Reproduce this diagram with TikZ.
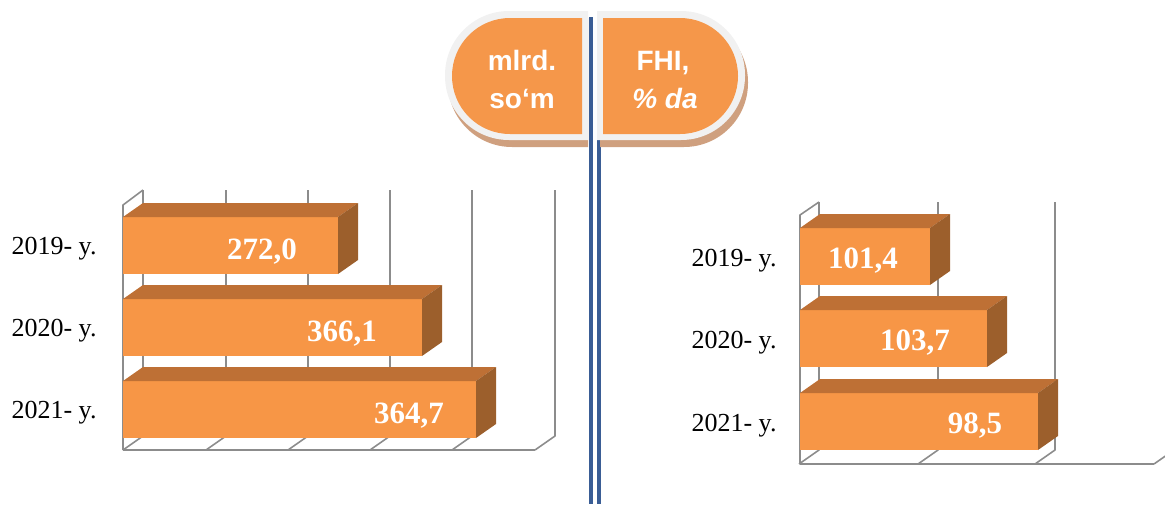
\documentclass[tikz,border=0pt]{standalone}
\usepackage{fontspec}
\setmainfont{Liberation Serif}
\newfontfamily\pillfont{Liberation Sans}
\definecolor{barfront}{HTML}{F79646}
\definecolor{bartop}{HTML}{BE7035}
\definecolor{barside}{HTML}{9C5F2C}
\definecolor{pillorange}{HTML}{F5974A}
\definecolor{pillrim}{HTML}{F1F1F1}
\definecolor{pillshadow}{HTML}{CFA07F}
\definecolor{gridgray}{HTML}{8C8C8C}
\definecolor{sepblue}{HTML}{3A5D95}
\tikzset{
  gridline/.style={draw=gridgray,line width=1.6pt,line join=round},
  yearlabel/.style={font=\fontsize{26}{28}\selectfont,anchor=base,inner sep=0pt},
  vallabel/.style={font=\bfseries\fontsize{31}{33}\selectfont,text=white,anchor=base,inner sep=0pt},
  pilltext/.style={font=\pillfont\bfseries\fontsize{28}{30}\selectfont,text=white,anchor=base,inner sep=0pt},
}
\newcommand\threedbar[4]{% left x, top y, right x, name
  \fill[barfront] (#1,#2) rectangle (#3,#2+57);
  \fill[bartop] (#1,#2) -- (#1+20,#2-14) -- (#3+20,#2-14) -- (#3,#2) -- cycle;
  \fill[barside] (#3,#2) -- (#3+20,#2-14) -- (#3+20,#2+43) -- (#3,#2+57) -- cycle;
  \coordinate (#4) at (#1,#2);
}
\begin{document}
\begin{tikzpicture}[x=1pt,y=-1pt]
\useasboundingbox (0,0) rectangle (1165,504);
% right separator line (behind the right pill)
\fill[sepblue] (597,17) rectangle (601,504);
% left pill
\fill[pillshadow] (588,18) [rounded corners=64] -- (448,18) -- (448,147) [sharp corners] -- (588,147) -- cycle;
\fill[pillrim] (588,11) [rounded corners=64] -- (445,11) -- (445,140) [sharp corners] -- (588,140) -- cycle;
\fill[pillorange] (582,18) [rounded corners=58] -- (452,18) -- (452,134) [sharp corners] -- (582,134) -- cycle;
% right pill
\fill[pillshadow] (600,18) [rounded corners=64] -- (748,18) -- (748,147) [sharp corners] -- (600,147) -- cycle;
\fill[pillrim] (597,11) [rounded corners=64] -- (745,11) -- (745,140) [sharp corners] -- (597,140) -- cycle;
\fill[pillorange] (603,18) [rounded corners=58] -- (738,18) -- (738,134) [sharp corners] -- (603,134) -- cycle;
% left separator line (in front)
\fill[sepblue] (589,17) rectangle (593,504);
\node[pilltext] (u1) at (522,70) {mlrd.};
\node[pilltext] (u2) at (522,108) {so‘m};
\node[pilltext] (f1) at (663,70) {FHI,};
\node[pilltext] (f2) at (665,108) {\itshape\% da};
% ---------- left chart grid ----------
\foreach \gx in {143,226,308,390,472,555} {
  \draw[gridline] (\gx,190) -- (\gx,436) -- (\gx-20,450);
}
\draw[gridline] (123,450) -- (535,450);
\draw[gridline] (123,450) -- (123,205) -- (143,190);
% left bars
\threedbar{123}{217}{338}{lb1}
\threedbar{123}{299}{422}{lb2}
\threedbar{123}{381}{476}{lb3}
\node[vallabel] (lv1) at (262,259) {272,0};
\node[vallabel] (lv2) at (342,341) {366,1};
\node[vallabel] (lv3) at (409,423) {364,7};
\node[yearlabel] (ly1) at (54,254) {2019- y.};
\node[yearlabel] (ly2) at (54,336) {2020- y.};
\node[yearlabel] (ly3) at (54,418) {2021- y.};
% ---------- right chart grid ----------
\foreach \gx in {819,938,1055} {
  \draw[gridline] (\gx,202) -- (\gx,450) -- (\gx-20,464);
}
\draw[gridline] (1174,450) -- (1154,464);
\draw[gridline] (800,464) -- (1154,464);
\draw[gridline] (800,464) -- (800,215) -- (819,202);
% right bars
\threedbar{800}{228}{930}{rb1}
\threedbar{800}{310}{987}{rb2}
\threedbar{800}{393}{1038}{rb3}
\node[vallabel] (rv1) at (863,268) {101,4};
\node[vallabel] (rv2) at (915,350) {103,7};
\node[vallabel] (rv3) at (975,433) {98,5};
\node[yearlabel] (ry1) at (734,266) {2019- y.};
\node[yearlabel] (ry2) at (734,348) {2020- y.};
\node[yearlabel] (ry3) at (734,431) {2021- y.};
\end{tikzpicture}
\end{document}
